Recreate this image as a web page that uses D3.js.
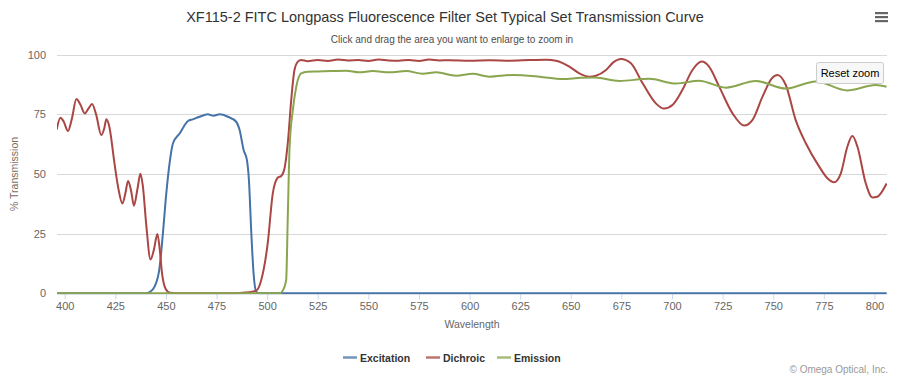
<!DOCTYPE html>
<html><head><meta charset="utf-8">
<script src="https://cdn.jsdelivr.net/npm/d3@7"></script>
<style>
html,body{margin:0;padding:0;background:#fff;}
text{font-family:"Liberation Sans",Arial,sans-serif;}
</style></head>
<body><svg id="c" width="907" height="378"></svg>
<script>
const titleText = "XF115-2 FITC Longpass Fluorescence Filter Set Typical Set Transmission Curve";
const subtitleText = "Click and drag the area you want to enlarge to zoom in";
const seriesNames = ["Excitation", "Dichroic", "Emission"];
const xTicks = [400,425,450,475,500,525,550,575,600,625,650,675,700,725,750,775,800];
const yTicks = [0,25,50,75,100];

const excitationWl = [396,440,442,444.4,446.9,448.5,450.2,451.8,453.5,456.8,460.9,463.3,466.6,470.7,473.5,476.5,480.6,484.7,486.4,488.4,490,491,492.2,493.3,494.6,496,806];
const excitationT  = [0,0,0.5,2.8,11,25,42,54.5,62.9,67,72.2,72.9,74,75,74.4,75,74,71.9,68.4,60,55.9,47.5,25,8.4,0.7,0,0];

const dichroicWl = [396,397.9,399.5,401.6,403.5,405.8,407.8,409.9,411.8,413.5,415.5,418.1,419.5,420.6,422,424.7,426.5,428.5,430,431.3,432.8,434.2,436,437.4,438.6,440.3,442.4,444,445.8,447,448,449.9,452,455,485,489,492,494.6,497.1,500.3,502.8,505.3,507,508.6,510.2,511.9,513.5,515.2,516.8,520,525,530,535,540,545,550,555,560,565,570,575,580,585,590,600,610,620,630,638,642.7,646,649.3,654.2,659.1,662.4,667.4,671,674.8,679.7,685.5,692,696.1,700.2,705.1,710.1,714.7,718.3,723.3,729.9,735.6,739.7,744.7,749.3,752.1,756.2,761.1,766.1,772.7,776.8,780,783.4,786.6,789.1,791.6,795.7,799,801.4,806];
const dichroicT  = [68.5,73.6,72,68,73,81.4,79,75.4,77.5,79.3,75,66.3,69,72.9,70,53.8,44,37.6,42,47.1,43,36.7,44,50.1,45,28.6,14.2,18,24.9,18,9,1.8,0.2,0,0,0.3,0.6,1.1,5.6,21,41.9,48.5,49.2,52.4,62.9,81,93.6,97.1,97.8,97.3,97.8,97.4,98,97.6,97.8,97.4,98,97.6,97.5,97.8,97.4,98,97.6,97.7,97.5,97.7,97.5,97.8,97.9,97.5,96.5,95,92.2,90.8,91.2,93.6,96.8,98.2,96.4,88,79.6,77.4,78.9,85.2,93.6,97.1,95,86.6,75.4,70.3,72.6,82.4,90.1,91.5,87.3,72.6,62.9,53.1,48.2,46.5,50.3,61.4,65.9,61.4,46.1,40.2,40.5,46];

const emissionWl = [396,506,507.7,509.4,510.2,511.1,512.7,514.4,516.8,520,525,532,539,545.5,552.2,560.4,568.6,576.9,583.5,593.3,601.5,609.8,621.3,634.5,646,655,662,673.9,688.7,701.9,713.4,726.6,741.4,756.2,771,786.5,800.6,806];
const emissionT  = [0,0,1.1,5.6,32,61.4,76.8,86.6,92.2,92.9,93,93.2,93.3,92.6,93.2,92.6,93.2,92,92.6,91.2,92,90.8,91.5,90.8,89.8,90.3,90.4,89,89.9,87.9,89.1,86.2,89,85.8,88.8,85,87.3,86.6];

const colors = ["#4572A7", "#AA4643", "#89A54E"];

const svg = d3.select("#c");
const plot = {left: 57, right: 887, top: 54.7, bottom: 293.3};

const x = d3.scaleLinear().domain([396.2, 806.2]).range([plot.left, plot.right]);
const y = d3.scaleLinear().domain([0, 100]).range([plot.bottom, plot.top]);

// title
svg.append("text").attr("x", 445).attr("y", 22).attr("text-anchor", "middle")
  .attr("font-size", "14.5px").attr("fill", "#333").text(titleText);
svg.append("text").attr("x", 452).attr("y", 43).attr("text-anchor", "middle")
  .attr("font-size", "10px").attr("fill", "#4d4d4d").text(subtitleText);

// hamburger
[13,17,21].forEach(v => svg.append("rect").attr("x", 875).attr("y", v - 1).attr("width", 13).attr("height", 2.2).attr("fill", "#666"));

// grid
svg.append("g").selectAll("line").data(yTicks.filter(d => d > 0)).join("line")
  .attr("x1", plot.left).attr("x2", plot.right)
  .attr("y1", d => Math.round(y(d)) + 0.5).attr("y2", d => Math.round(y(d)) + 0.5)
  .attr("stroke", "#d8d8d8").attr("stroke-width", 1);

// y labels
svg.append("g").selectAll("text").data(yTicks).join("text")
  .attr("x", 46).attr("y", d => y(d) + 4).attr("text-anchor", "end")
  .attr("font-size", "11px").attr("fill", "#666").text(d => d);

// y title
svg.append("text").attr("transform", `translate(18,${(plot.top + plot.bottom) / 2}) rotate(-90)`)
  .attr("text-anchor", "middle").attr("font-size", "10.5px").attr("fill", "#7d6b5d").text("% Transmission");

// x axis
const xAxis = d3.axisBottom(x).tickValues(xTicks).tickSize(6).tickPadding(3).tickSizeOuter(0);
const gx = svg.append("g").attr("transform", `translate(0,${Math.round(plot.bottom) + 0.5})`).call(xAxis);
gx.select(".domain").attr("stroke", "#ccd6eb");
gx.selectAll(".tick line").attr("stroke", "#ccd6eb");
gx.selectAll(".tick text").attr("font-size", "11px").attr("fill", "#666")
  .attr("font-family", '"Liberation Sans",Arial,sans-serif');

svg.append("text").attr("x", (plot.left + plot.right) / 2).attr("y", 328).attr("text-anchor", "middle")
  .attr("font-size", "10.5px").attr("fill", "#666").text("Wavelength");

// clip
svg.append("clipPath").attr("id", "clip").append("rect")
  .attr("x", plot.left).attr("y", plot.top - 5).attr("width", plot.right - plot.left).attr("height", plot.bottom - plot.top + 6);

const line = d3.line().x(d => x(d[0])).y(d => y(d[1])).curve(d3.curveMonotoneX);
const seriesData = [
  d3.zip(excitationWl, excitationT),
  d3.zip(dichroicWl, dichroicT),
  d3.zip(emissionWl, emissionT)
];
const gl = svg.append("g").attr("clip-path", "url(#clip)");
seriesData.forEach((s, i) => {
  gl.append("path").datum(s).attr("d", line).attr("fill", "none")
    .attr("stroke", colors[i]).attr("stroke-width", 2).attr("stroke-linejoin", "round");
});

// legend
const legendPos = [343, 426, 497];
seriesNames.forEach((n, i) => {
  const g = svg.append("g");
  g.append("line").attr("x1", legendPos[i]).attr("x2", legendPos[i] + 14).attr("y1", 357.5).attr("y2", 357.5)
    .attr("stroke", colors[i]).attr("stroke-width", 2.5).attr("opacity", 0.75);
  g.append("text").attr("x", legendPos[i] + 17).attr("y", 361.5).attr("font-size", "10.5px")
    .attr("font-weight", "bold").attr("fill", "#333").text(n);
});

// credits
svg.append("text").attr("x", 888).attr("y", 373).attr("text-anchor", "end")
  .attr("font-size", "10px").attr("fill", "#999").text("\u00A9 Omega Optical, Inc.");

// reset zoom button
svg.append("rect").attr("x", 816.5).attr("y", 62.5).attr("width", 67).attr("height", 21).attr("rx", 2)
  .attr("fill", "#f7f7f7").attr("stroke", "#cccccc");
svg.append("text").attr("x", 850).attr("y", 77).attr("text-anchor", "middle")
  .attr("font-size", "11px").attr("fill", "#000").text("Reset zoom");
</script></body></html>
